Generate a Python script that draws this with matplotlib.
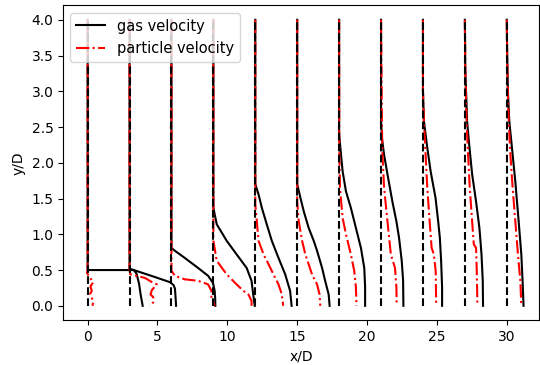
import matplotlib
matplotlib.use("Agg")
import matplotlib.pyplot as plt

stations = [0, 3, 6, 9, 12, 15, 18, 21, 24, 27, 30]

gas_y = [
    [4.0, 0.5, 0.5, 0.45, 0.31, 0.15, 0.0],
    [4.0, 0.52, 0.5, 0.41, 0.33, 0.29, 0.24, 0.1, 0.0],
    [4.0, 0.81, 0.77, 0.67, 0.53, 0.42, 0.32, 0.21, 0.1, 0.0],
    [4.0, 1.37, 1.14, 0.91, 0.72, 0.53, 0.35, 0.16, 0.0],
    [4.0, 1.70, 1.56, 1.37, 1.14, 0.91, 0.67, 0.44, 0.21, 0.0],
    [4.0, 1.70, 1.51, 1.32, 1.09, 0.91, 0.77, 0.53, 0.35, 0.16, 0.0],
    [4.0, 2.4, 2.21, 1.88, 1.60, 1.37, 1.09, 0.81, 0.53, 0.26, 0.0],
    [4.0, 2.6, 2.35, 2.11, 1.84, 1.46, 1.18, 0.95, 0.63, 0.35, 0.0],
    [4.0, 3.0, 2.58, 2.21, 1.88, 1.51, 1.18, 0.95, 0.63, 0.26, 0.0],
    [4.0, 3.3, 2.58, 2.21, 1.84, 1.46, 1.09, 0.72, 0.35, 0.0],
    [4.0, 3.6, 3.0, 2.58, 2.21, 1.74, 1.18, 0.72, 0.35, 0.0],
]
gas_u = [
    [0, 0, 3.3, 3.5, 3.68, 3.8, 3.94],
    [0, 0, 0.3, 1.7, 2.9, 3.15, 3.25, 3.3, 3.33],
    [0, 0, 0.24, 0.95, 1.9, 2.62, 2.97, 3.09, 3.13, 3.14],
    [0, 0, 0.24, 0.95, 1.66, 2.38, 2.73, 2.85, 2.96],
    [0, 0, 0.23, 0.47, 0.82, 1.18, 1.66, 2.14, 2.49, 2.6],
    [0, 0, 0.23, 0.47, 0.82, 1.18, 1.42, 1.78, 2.0, 2.25, 2.32],
    [0, 0, 0.09, 0.25, 0.49, 0.84, 1.2, 1.56, 1.8, 1.86, 1.86],
    [0, 0, 0.06, 0.22, 0.46, 0.81, 1.1, 1.29, 1.48, 1.58, 1.6],
    [0, 0, 0.07, 0.31, 0.55, 0.9, 1.09, 1.21, 1.3, 1.37, 1.37],
    [0, 0.03, 0.16, 0.33, 0.52, 0.8, 1.04, 1.19, 1.28, 1.3],
    [0, 0.02, 0.08, 0.18, 0.37, 0.61, 0.85, 1.04, 1.13, 1.2],
]

part_y = [
    [4.0, 0.5, 0.46, 0.39, 0.33, 0.27, 0.21, 0.17, 0.11, 0.05, 0.0],
    [4.0, 0.5, 0.44, 0.39, 0.32, 0.3, 0.22, 0.16, 0.12, 0.05, 0.0],
    [4.0, 0.77, 0.49, 0.42, 0.37, 0.35, 0.30, 0.21, 0.12, 0.0],
    [4.0, 1.0, 0.91, 0.63, 0.44, 0.30, 0.21, 0.16, 0.07, 0.0],
    [4.0, 1.42, 1.18, 0.91, 0.72, 0.58, 0.44, 0.30, 0.16, 0.0],
    [4.0, 1.46, 1.18, 0.91, 0.72, 0.58, 0.44, 0.30, 0.16, 0.0],
    [4.0, 2.21, 1.65, 1.23, 1.0, 0.72, 0.49, 0.26, 0.0],
    [4.0, 2.58, 2.11, 1.65, 1.18, 0.72, 0.53, 0.26, 0.0],
    [4.0, 3.0, 2.58, 2.11, 1.65, 1.18, 0.81, 0.72, 0.49, 0.0],
    [4.0, 3.3, 2.58, 2.11, 1.65, 1.18, 0.86, 0.81, 0.49, 0.0],
    [4.0, 3.6, 3.0, 2.58, 2.11, 1.65, 1.18, 0.72, 0.35, 0.0],
]
part_u = [
    [0, 0, -0.05, 0.18, 0.4, 0.2, 0.3, 0.18, 0.3, 0.4, 0.35],
    [0, 0, 0.05, 1.1, 1.7, 1.95, 1.6, 1.5, 1.7, 1.7, 1.45],
    [0, 0, 0.0, 0.24, 0.95, 1.9, 2.62, 2.86, 2.86, 3.09],
    [0, 0, 0.0, 0.24, 0.95, 1.66, 2.14, 2.5, 2.73, 2.73],
    [0, 0, 0.11, 0.23, 0.59, 0.95, 1.3, 1.66, 1.9, 2.0],
    [0, 0, 0.11, 0.35, 0.58, 0.82, 1.06, 1.42, 1.6, 1.65],
    [0, 0.01, 0.06, 0.25, 0.49, 0.84, 1.08, 1.2, 1.25],
    [0, 0.06, 0.1, 0.22, 0.46, 0.7, 1.0, 1.1, 1.12],
    [0, 0, 0.07, 0.19, 0.31, 0.48, 0.62, 0.78, 0.91, 0.95],
    [0, 0.03, 0.12, 0.23, 0.35, 0.52, 0.64, 0.8, 0.85, 0.9],
    [0, 0.02, 0.07, 0.14, 0.26, 0.42, 0.61, 0.8, 0.97, 1.04],
]

y_range = [0.0, 4.0]

fig = plt.figure(figsize=(5.4, 3.65), dpi=100)
ax = fig.add_axes([0.117, 0.123, 0.881, 0.862])

for i, x0 in enumerate(stations):
    ax.plot([x0 + u for u in gas_u[i]], gas_y[i], "k-",
            label="gas velocity" if i == 0 else None)
    ax.plot([x0 + u for u in part_u[i]], part_y[i], "r-.",
            label="particle velocity" if i == 0 else None)
    ax.plot([x0, x0], y_range, "k--")

ax.set_xlim(-1.75, 32.3)
ax.set_ylim(-0.2, 4.2)
ax.set_xlabel("x/D")
ax.set_ylabel("y/D")
ax.legend(loc="upper left", fontsize=10.5)

fig.savefig("out.png", dpi=100)
